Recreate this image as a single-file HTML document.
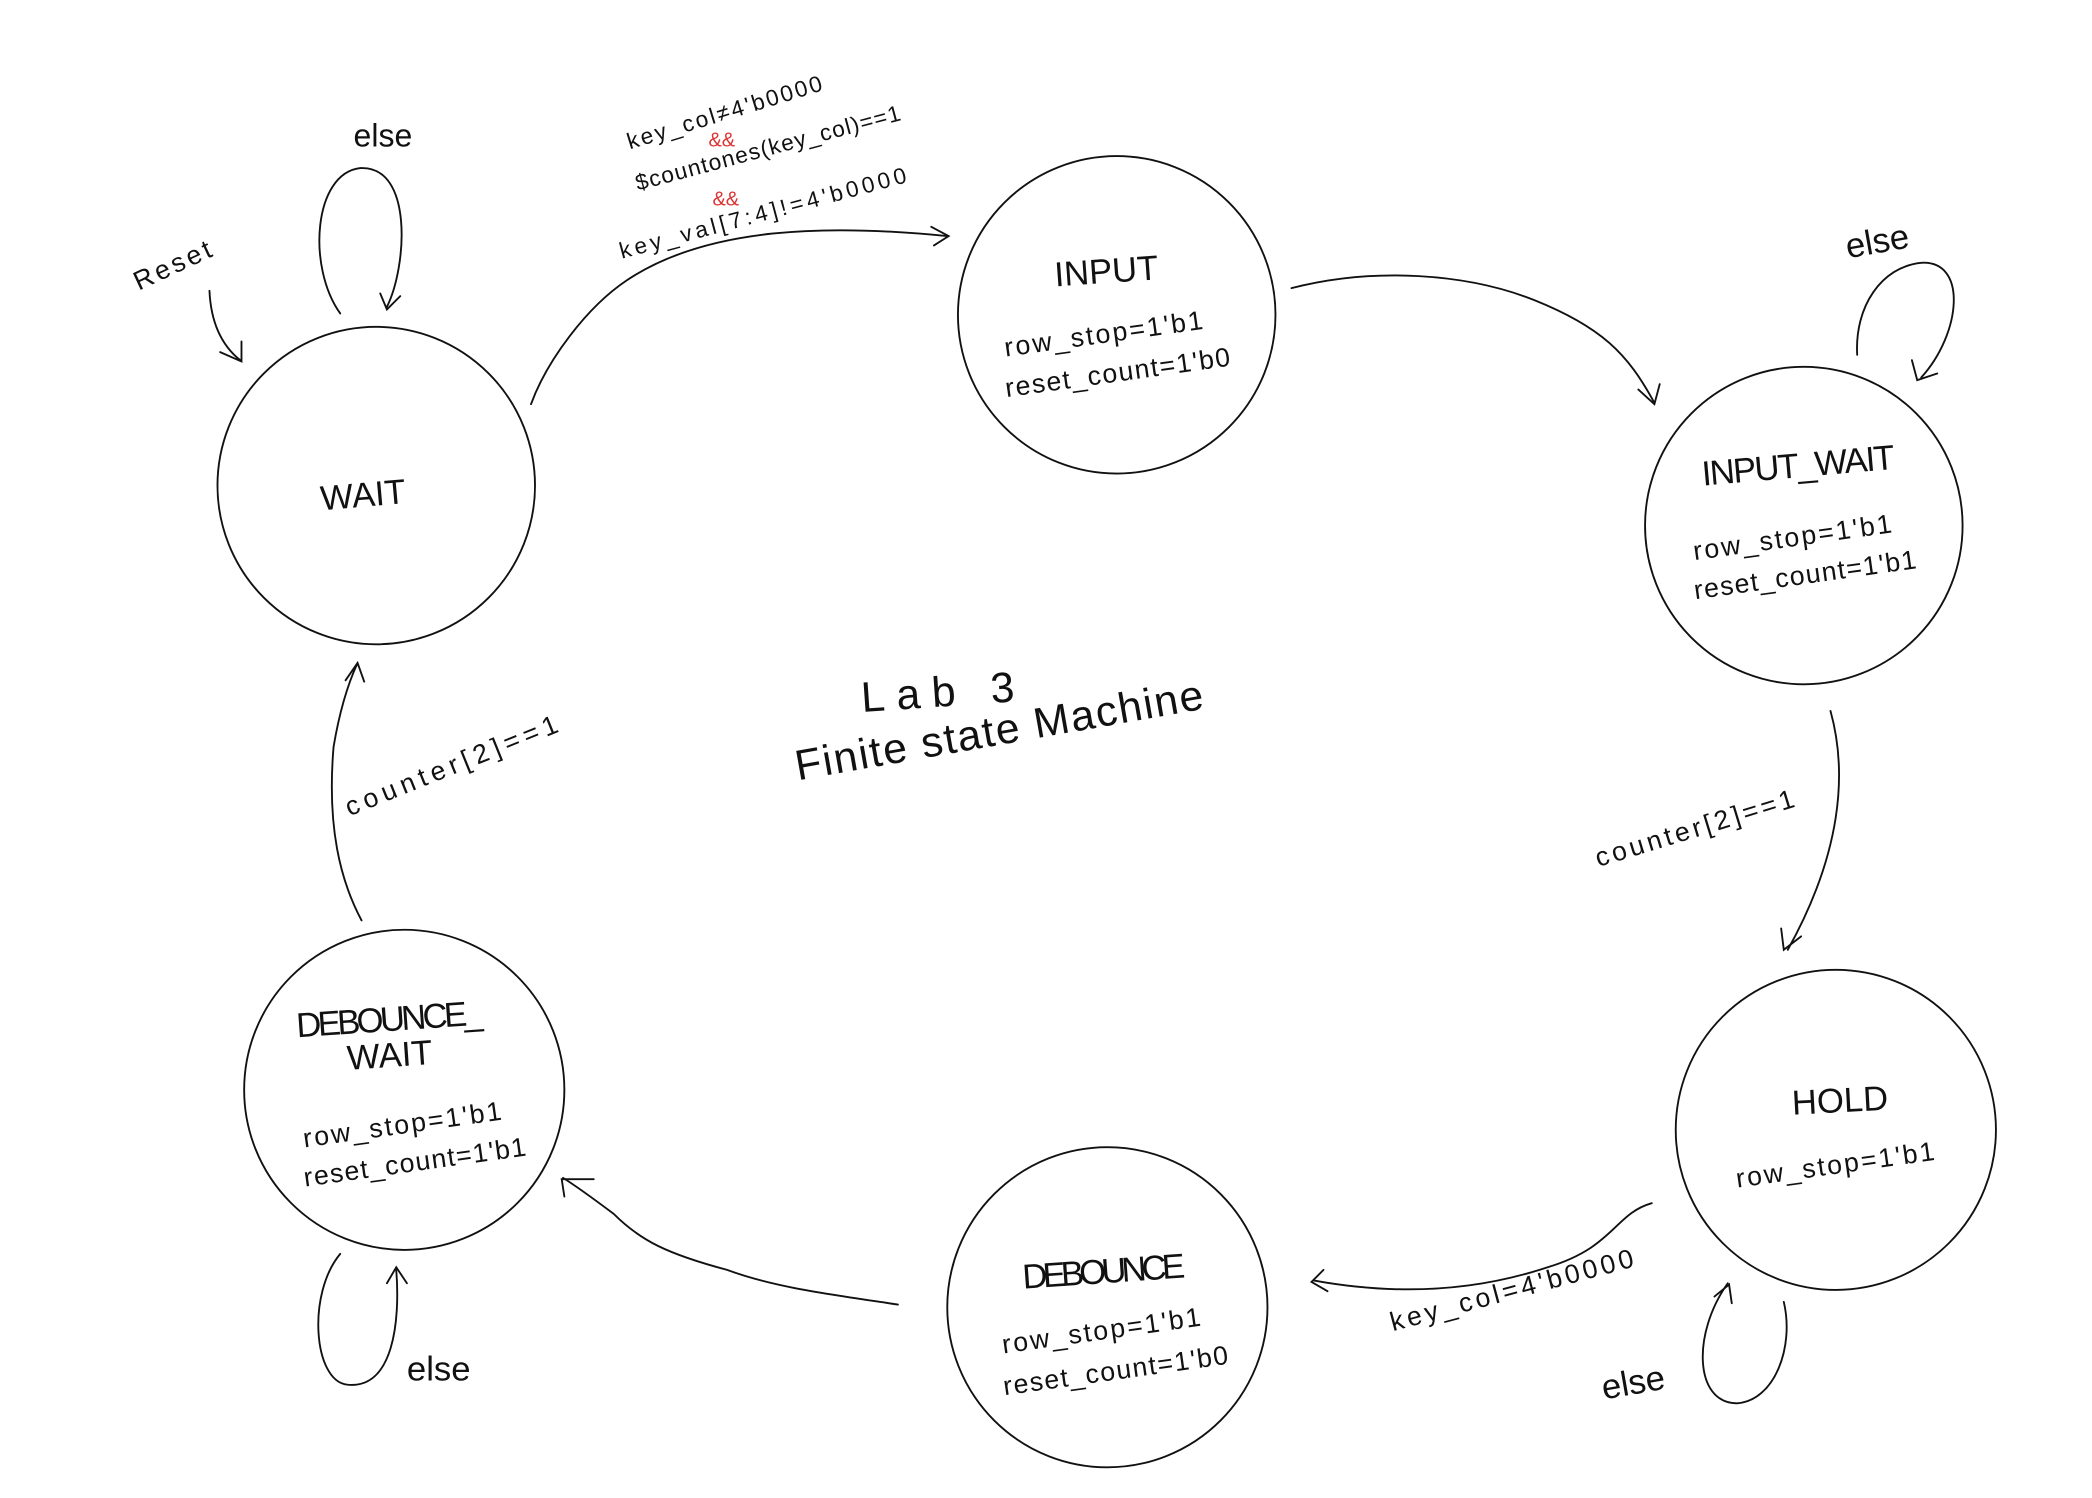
<!DOCTYPE html>
<html><head><meta charset="utf-8"><style>
html,body{margin:0;padding:0;background:#fff;}
svg{display:block;}
text{font-family:"Liberation Sans",sans-serif;fill:#111;}
</style></head><body>
<svg width="2092" height="1498" viewBox="0 0 1568 1123" preserveAspectRatio="none" xmlns="http://www.w3.org/2000/svg">
<g fill="none" stroke="#111" stroke-width="1.4" stroke-linecap="round">
<circle cx="282" cy="364" r="119"/>
<circle cx="837" cy="236" r="119"/>
<circle cx="1352" cy="394" r="119"/>
<circle cx="1376" cy="847" r="120"/>
<circle cx="830" cy="980" r="120"/>
<circle cx="303" cy="817" r="120"/>
<path d="M255 235 C230 200 235 130 270 126 C310 124 305 200 290 230"/>
<path d="M285 220 L290 232 L300 222"/>
<path d="M157 218 C158 240 165 258 180 270"/>
<path d="M165 264 L181 271 L181 256"/>
<path d="M398 303 C410 270 440 230 470 210 C530 170 620 168 710 177"/>
<path d="M698 170 L711 177 L700 184"/>
<path d="M968 216 C1030 200 1100 205 1150 225 C1200 245 1220 265 1240 302"/>
<path d="M1228 292 L1240 303 L1244 288"/>
<path d="M1392 266 C1390 230 1410 200 1440 197 C1475 195 1470 250 1440 283"/>
<path d="M1433 270 L1437 285 L1452 280"/>
<path d="M1372 533 C1385 580 1380 640 1340 712"/>
<path d="M1335 696 L1337 712 L1350 702"/>
<path d="M1337 976 C1345 1010 1330 1050 1302 1052 C1270 1052 1268 1000 1295 962"/>
<path d="M1285 972 L1296 963 L1298 977"/>
<path d="M1238 902 C1210 910 1210 935 1160 950 C1100 970 1040 970 985 960"/>
<path d="M992 952 L983 961 L995 968"/>
<path d="M673 978 C620 970 580 965 545 952 C500 940 480 930 460 910 C440 895 430 888 422 883"/>
<path d="M423 897 L421 884 L445 884"/>
<path d="M255 940 C230 970 235 1035 260 1038 C295 1042 300 990 297 952"/>
<path d="M290 962 L297 950 L305 962"/>
<path d="M271 690 C255 660 245 620 250 560 C255 530 262 510 268 497"/>
<path d="M259 510 L268 497 L273 511"/>
</g>
<g font-size="26">
<text x="240" y="380" transform="rotate(-5 270 370)">WAIT</text>
<text x="790" y="212" transform="rotate(-4 830 200)">INPUT</text>
<text x="1275" y="358" transform="rotate(-5 1345 345)" textLength="145">INPUT_WAIT</text>
<text x="1343" y="834" transform="rotate(-3 1375 825)">HOLD</text>
<text x="766" y="962" transform="rotate(-4 826 950)" textLength="122">DEBOUNCE</text>
<text x="222" y="773" transform="rotate(-4 290 765)" textLength="140">DEBOUNCE_</text>
<text x="260" y="800" transform="rotate(-4 290 790)">WAIT</text>
</g>
<g font-size="20">
<text x="752" y="258" transform="rotate(-8 820 250)" textLength="150">row_stop=1'b1</text>
<text x="752" y="287" transform="rotate(-8 830 275)" textLength="170">reset_count=1'b0</text>
<text x="1268" y="410" transform="rotate(-8 1340 400)" textLength="150">row_stop=1'b1</text>
<text x="1268" y="438" transform="rotate(-8 1350 425)" textLength="168">reset_count=1'b1</text>
<text x="1300" y="880" transform="rotate(-8 1375 870)" textLength="150">row_stop=1'b1</text>
<text x="750" y="1005" transform="rotate(-8 820 995)" textLength="150">row_stop=1'b1</text>
<text x="750" y="1035" transform="rotate(-8 830 1020)" textLength="170">reset_count=1'b0</text>
<text x="226" y="850" transform="rotate(-8 300 840)" textLength="150">row_stop=1'b1</text>
<text x="226" y="878" transform="rotate(-8 310 865)" textLength="168">reset_count=1'b1</text>
<text x="265" y="110" font-size="24">else</text>
<text x="104" y="218" transform="rotate(-25 104 218)" textLength="62">Reset</text>
<text x="1383" y="190" font-size="26" transform="rotate(-10 1405 180)">else</text>
<text x="1200" y="1045" font-size="26" transform="rotate(-10 1225 1035)">else</text>
<text x="305" y="1035" font-size="26">else</text>
<text x="262" y="612" transform="rotate(-22 262 612)" textLength="170">counter[2]==1</text>
<text x="1198" y="650" transform="rotate(-17 1198 650)" textLength="155">counter[2]==1</text>
<text x="1044" y="998" transform="rotate(-15 1044 998)" textLength="188">key_col=4'b0000</text>
</g>
<g font-size="17">
<text x="472" y="112" transform="rotate(-17 472 112)" textLength="152">key_col≠4'b0000</text>
<text x="478" y="143" transform="rotate(-15 478 143)" textLength="205">$countones(key_col)==1</text>
<text x="466" y="194" transform="rotate(-15 466 194)" textLength="222">key_val[7:4]!=4'b0000</text>
</g>
<g font-size="15" style="fill:#d33">
<text x="531" y="110" style="fill:#d33">&amp;&amp;</text>
<text x="534" y="154" style="fill:#d33">&amp;&amp;</text>
</g>
<g font-size="32">
<text x="645" y="530" transform="rotate(-4 700 515)" textLength="115">Lab  3</text>
<text x="598" y="585" transform="rotate(-10 598 585)" textLength="310">Finite state Machine</text>
</g>
</svg>
</body></html>
